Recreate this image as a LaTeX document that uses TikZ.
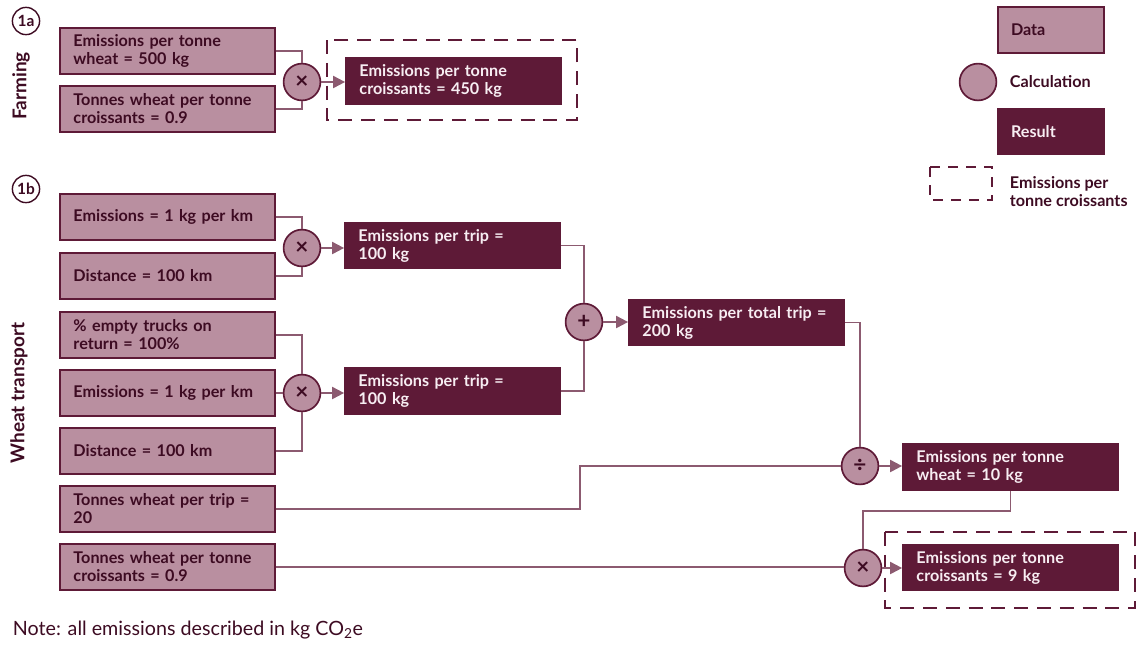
\documentclass[tikz,border=0pt]{standalone}
\usepackage{fontspec}
\setmainfont{Lato}
\usepackage{tikz}
\usetikzlibrary{arrows.meta, positioning}
\definecolor{mauve}{HTML}{B98FA0}
\definecolor{maroon}{HTML}{5E1A37}
\definecolor{linecol}{HTML}{8C5A70}
\definecolor{darktext}{HTML}{3D0B22}
\definecolor{paletext}{HTML}{F7EDF2}

\begin{document}
\begin{tikzpicture}[
    x=0.025cm, y=-0.025cm,
    font=\fontsize{11.5}{12.8}\selectfont\bfseries,
    databox/.style={rectangle, draw=maroon, line width=1.2pt, fill=mauve, text=darktext, minimum width=5.375cm, minimum height=1.15cm, text width=4.7cm, align=left, inner xsep=0.33cm},
    resultbox/.style={databox, fill=maroon, text=paletext},
    calc/.style={circle, draw=maroon, line width=1.2pt, fill=mauve, text=darktext, minimum size=0.92cm, inner sep=0pt, font=\fontsize{16}{16}\selectfont\bfseries},
    link/.style={draw=linecol, line width=1.4pt},
    flow/.style={link, -{Triangle[length=0.3cm, width=0.3cm]}},
    groupbox/.style={draw=maroon, line width=1.2pt, dash pattern=on 0.35cm off 0.22cm},
    tag/.style={circle, draw=darktext, line width=1pt, inner sep=0pt, minimum size=0.68cm, font=\fontsize{11}{11}\selectfont\bfseries, text=darktext},
    side/.style={rotate=90, font=\fontsize{13.5}{14}\selectfont\bfseries, text=darktext}
]
    \useasboundingbox (0,0) rectangle (1144,646);

    % 1a: farming
    \node[tag] (taga) at (26,21) {1a};
    \node[side] (farmlabel) at (21,86) {Farming};
    \node[databox] (emtonne) at (167.5,51) {Emissions per tonne\\wheat = 500 kg};
    \node[databox] (wheatratio) at (167.5,109) {Tonnes wheat per tonne\\croissants = 0.9};
    \node[calc] (farmmul) at (302,82) {×};
    \node[resultbox] (farmres) at (453.5,81) {Emissions per tonne\\croissants = 450 kg};
    \draw[groupbox] (327,40) rectangle (577,120);

    \path[link] (emtonne.east) -| (farmmul.north);
    \path[link] (wheatratio.east) -| (farmmul.south);
    \path[flow] (farmmul.east) -- (farmmul.east -| farmres.west);

    % legend
    \node[databox, minimum width=2.65cm, text width=2cm] (legdata) at (1051,30) {Data};
    \node[calc] (legcalc) at (978,82) {};
    \node[anchor=west, text=darktext] (legcalctext) at (1005,82) {Calculation};
    \node[resultbox, minimum width=2.65cm, text width=2cm] (legres) at (1051,131.5) {Result};
    \draw[groupbox, dash pattern=on 0.25cm off 0.2cm] (930,167) rectangle (992,200);
    \node[anchor=west, align=left, text=darktext] (leggroup) at (1005,192) {Emissions per\\tonne croissants};

    % 1b: wheat transport
    \node[tag] (tagb) at (26,189) {1b};
    \node[side] (translabel) at (19,393) {Wheat transport};
    \node[databox] (emkm) at (167.5,217) {Emissions = 1 kg per km};
    \node[databox] (dist) at (167.5,276) {Distance = 100 km};
    \node[databox] (empty) at (167.5,335) {\% empty trucks on\\return = 100\%};
    \node[databox] (emkmret) at (167.5,393) {Emissions = 1 kg per km};
    \node[databox] (distret) at (167.5,451) {Distance = 100 km};
    \node[databox] (pertrip) at (167.5,509) {Tonnes wheat per trip =\\20};
    \node[databox] (wheatratiob) at (167.5,567) {Tonnes wheat per tonne\\croissants = 0.9};

    \node[calc] (outmul) at (302,248) {×};
    \node[resultbox] (outres) at (452.5,245.5) {Emissions per trip =\\100 kg};
    \node[calc] (retmul) at (302,393) {×};
    \node[resultbox] (retres) at (452.5,391) {Emissions per trip =\\100 kg};
    \node[calc] (tripsum) at (584,322) {+};
    \node[resultbox] (tripres) at (736.5,322.5) {Emissions per total trip =\\200 kg};
    \node[calc] (tripdiv) at (860,466) {÷};
    \node[resultbox] (wheatres) at (1010.5,467) {Emissions per tonne\\wheat = 10 kg};
    \node[calc] (finalmul) at (863,568) {×};
    \node[resultbox] (finalres) at (1010.5,567.5) {Emissions per tonne\\croissants = 9 kg};
    \draw[groupbox] (885,532) rectangle (1135,608);
    \coordinate (tripbend) at (580,466);

    \path[link] (emkm.east) -| (outmul.north);
    \path[link] (dist.east) -| (outmul.south);
    \path[flow] (outmul.east) -- (outmul.east -| outres.west);
    \path[link] (empty.east) -| (retmul.north);
    \path[link] (emkmret) -- (retmul);
    \path[link] (distret.east) -| (retmul.south);
    \path[flow] (retmul.east) -- (retmul.east -| retres.west);

    % both legs of the trip added
    \path[link] (outres.east) -| (tripsum.north);
    \path[link] (retres.east) -| (tripsum.south);
    \path[flow] (tripsum.east) -- (tripsum.east -| tripres.west);

    % per tonne wheat, then per tonne croissants
    \path[link] (tripres.east) -| (tripdiv.north);
    \path[link] (pertrip.east) -| (tripbend) -- (tripdiv.west);
    \path[flow] (tripdiv.east) -- (tripdiv.east -| wheatres.west);
    \path[link] (wheatres.south) -- ++(0,20) -| (finalmul.north);
    \path[link] (wheatratiob.east) -- (wheatratiob.east -| finalmul.west);
    \path[flow] (finalmul.east) -- (finalmul.east -| finalres.west);

    \node[anchor=west, text=darktext, font=\fontsize{14}{16}\selectfont] (note) at (8,630) {Note: all emissions described in kg CO\textsubscript{2}e};
\end{tikzpicture}
\end{document}
